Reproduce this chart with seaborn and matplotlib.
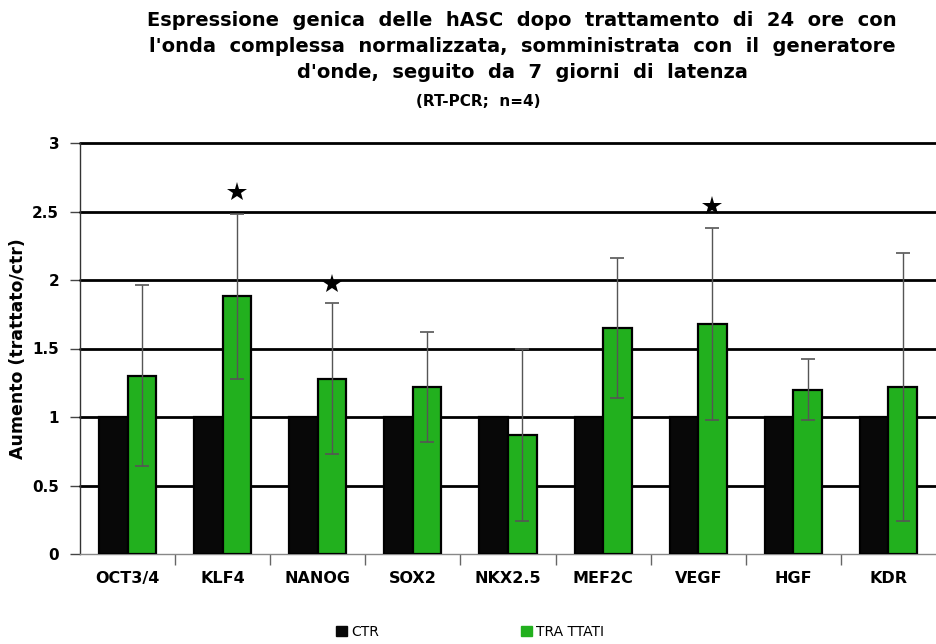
import numpy as np
import pandas as pd
import matplotlib
matplotlib.use("Agg")
import matplotlib.pyplot as plt
import seaborn as sns
from matplotlib.ticker import FixedLocator, NullFormatter
from matplotlib.patches import Patch

genes = ["OCT3/4", "KLF4", "NANOG", "SOX2", "NKX2.5", "MEF2C", "VEGF", "HGF", "KDR"]
ctr_values = [1.0, 1.0, 1.0, 1.0, 1.0, 1.0, 1.0, 1.0, 1.0]
trattati_values = [1.30, 1.88, 1.28, 1.22, 0.87, 1.65, 1.68, 1.20, 1.22]
trattati_err = [0.66, 0.60, 0.55, 0.40, 0.63, 0.51, 0.70, 0.22, 0.98]
star_y = [None, 2.64, 1.97, None, None, None, 2.54, None, None]
series = ["CTR", "TRA TTATI"]
yticks = [0, 0.5, 1, 1.5, 2, 2.5, 3]
ytick_labels = ["0", "0.5", "1", "1.5", "2", "2.5", "3"]

df = pd.DataFrame({
    "gene": genes * 2,
    "serie": [series[0]] * len(genes) + [series[1]] * len(genes),
    "valore": ctr_values + trattati_values,
})

sns.set_style("white")
plt.rcParams["font.family"] = ["DejaVu Sans"]
for k in ["text.color", "axes.labelcolor", "xtick.color", "ytick.color"]:
    plt.rcParams[k] = "black"

W, H = 936, 644
fig = plt.figure(figsize=(W / 100, H / 100), dpi=100)
ax = fig.add_axes([80 / W, (644 - 554) / H, 856 / W, 411 / H])

palette = {"CTR": "#080808", "TRA TTATI": "#22B01E"}
sns.barplot(data=df, x="gene", y="valore", hue="serie", order=genes,
            hue_order=series, palette=palette, width=0.6, gap=0.0,
            edgecolor="black", linewidth=1.6, errorbar=None, ax=ax,
            legend=False, saturation=1.0, zorder=3)

# error bars only on treated bars
green_container = ax.containers[1]
xs = [p.get_x() + p.get_width() / 2 for p in green_container]
ax.errorbar(xs, trattati_values, yerr=trattati_err, fmt="none",
            ecolor="#555555", elinewidth=1.0, capsize=5, capthick=1.2, zorder=4)

for x, s in zip(xs, star_y):
    if s is not None:
        ax.plot([x], [s], marker="*", markersize=15, color="black", zorder=5,
                markeredgewidth=0)

ax.set_ylim(0, 3)
ax.set_xlim(-0.5, len(genes) - 0.5)
ax.set_yticks(yticks)
ax.set_yticklabels(ytick_labels, fontsize=11, fontweight="bold")
for y in yticks[1:]:
    ax.axhline(y, color="black", linewidth=2.0, zorder=1, clip_on=False)

ax.tick_params(axis="y", which="major", direction="out", length=7, width=1,
               color="#444444", left=True, pad=8)
ax.tick_params(axis="x", which="major", length=0, pad=12)
ax.set_xticks(range(len(genes)))
ax.set_xticklabels(genes, fontsize=11.5, fontweight="bold")
ax.xaxis.set_minor_locator(FixedLocator(np.arange(0.5, len(genes) - 0.5, 1.0)))
ax.xaxis.set_minor_formatter(NullFormatter())
ax.tick_params(axis="x", which="minor", direction="out", length=8, width=1,
               color="#666666", bottom=True)

ax.set_xlabel("")
ax.set_ylabel("Aumento (trattato/ctr)", fontsize=12.5, fontweight="bold", labelpad=4)

for side in ["top", "right"]:
    ax.spines[side].set_visible(False)
ax.spines["left"].set_color("#333333")
ax.spines["left"].set_linewidth(1.0)
ax.spines["bottom"].set_color("#888888")
ax.spines["bottom"].set_linewidth(1.0)

title_lines = [
    "Espressione  genica  delle  hASC  dopo  trattamento  di  24  ore  con",
    "l'onda  complessa  normalizzata,  somministrata  con  il  generatore",
    "d'onde,  seguito  da  7  giorni  di  latenza",
]
for i, line in enumerate(title_lines):
    fig.text(522 / W, 1 - (20 + 26.5 * i) / H, line, ha="center", va="center",
             fontsize=14, fontweight="bold")
fig.text(478 / W, 1 - 101 / H, "(RT-PCR;  n=4)", ha="center", va="center",
         fontsize=11, fontweight="bold")

handles = [Patch(facecolor=palette[s], edgecolor=palette[s]) for s in series]
fig.legend(handles, series, loc="center", bbox_to_anchor=(470 / W, 1 - 632 / H),
           ncol=2, frameon=False, fontsize=10, handlelength=0.8, handleheight=0.8,
           handletextpad=0.3, columnspacing=10.2)

fig.savefig("out.png", dpi=100)
